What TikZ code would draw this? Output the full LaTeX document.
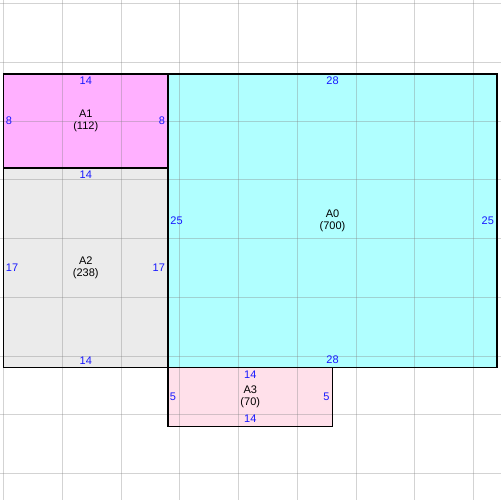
\documentclass[tikz,border=0pt]{standalone}
\usepackage{fontspec}
\setmainfont{Liberation Sans}
\usepackage{tikz}
\usetikzlibrary{positioning}
\definecolor{a0_fill}{RGB}{176,255,255}
\definecolor{a1_fill}{RGB}{255,176,255}
\definecolor{a2_fill}{RGB}{235,235,235}
\definecolor{a3_fill}{RGB}{255,224,234}
\definecolor{dim_blue}{RGB}{24,24,255}
\tikzstyle{area}=[rectangle, inner sep=0pt, outer sep=0pt, align=center,
    font=\fontsize{8}{8.6}\selectfont]
\tikzstyle{area_border}=[draw=black, line width=0.75pt]
\tikzstyle{grid_line}=[draw=black!50, draw opacity=0.35, line width=0.7pt]
\tikzstyle{dim}=[inner sep=0pt, text=dim_blue, font=\fontsize{8}{9}\selectfont]

\begin{document}
\begin{tikzpicture}[x=0.3cm, y=-0.3cm]
          \useasboundingbox (-0.298,-0.298) rectangle (42.255,42.255);
          \node[area, fill=a1_fill, minimum width=4.2cm, minimum height=2.4cm] (a1) at (7,10){A1\\(112)};
          \node[area, fill=a2_fill, minimum width=4.2cm, minimum height=5.1cm] (a2) at (7,22.5){A2\\(238)};
          \node[area, fill=a0_fill, minimum width=8.4cm, minimum height=7.5cm] (a0) at (28,18.5){A0\\(700)};
          \node[area, fill=a3_fill, minimum width=4.2cm, minimum height=1.5cm] (a3) at (21,33.5){A3\\(70)};
          % grid over the fills
          \foreach \k in {0,5,...,40} {
            \draw[grid_line] (\k,-0.5) -- (\k,42.5);
            \draw[grid_line] (-0.5,\k) -- (42.5,\k);
          }
          \foreach \n in {a0,a1,a2,a3}
            \draw[area_border] (\n.north west) rectangle (\n.south east);
          % side lengths
          \node[dim, below=2pt of a1.north] (a1_top){14};
          \node[dim, right=1.6pt of a1.west] (a1_left){8};
          \node[dim, left=2pt of a1.east] (a1_right){8};
          \node[dim, below=2pt of a2.north] (a2_top){14};
          \node[dim, right=1.6pt of a2.west] (a2_left){17};
          \node[dim, left=2pt of a2.east] (a2_right){17};
          \node[dim, above=2.5pt of a2.south] (a2_bottom){14};
          \node[dim, below=2pt of a0.north] (a0_top){28};
          \node[dim, right=1.6pt of a0.west] (a0_left){25};
          \node[dim, left=2pt of a0.east] (a0_right){25};
          \node[dim, above=2.5pt of a0.south] (a0_bottom){28};
          \node[dim, below=2pt of a3.north] (a3_top){14};
          \node[dim, right=1.2pt of a3.west] (a3_left){5};
          \node[dim, left=2pt of a3.east] (a3_right){5};
          \node[dim, above=2.5pt of a3.south] (a3_bottom){14};
        \end{tikzpicture}
\end{document}
